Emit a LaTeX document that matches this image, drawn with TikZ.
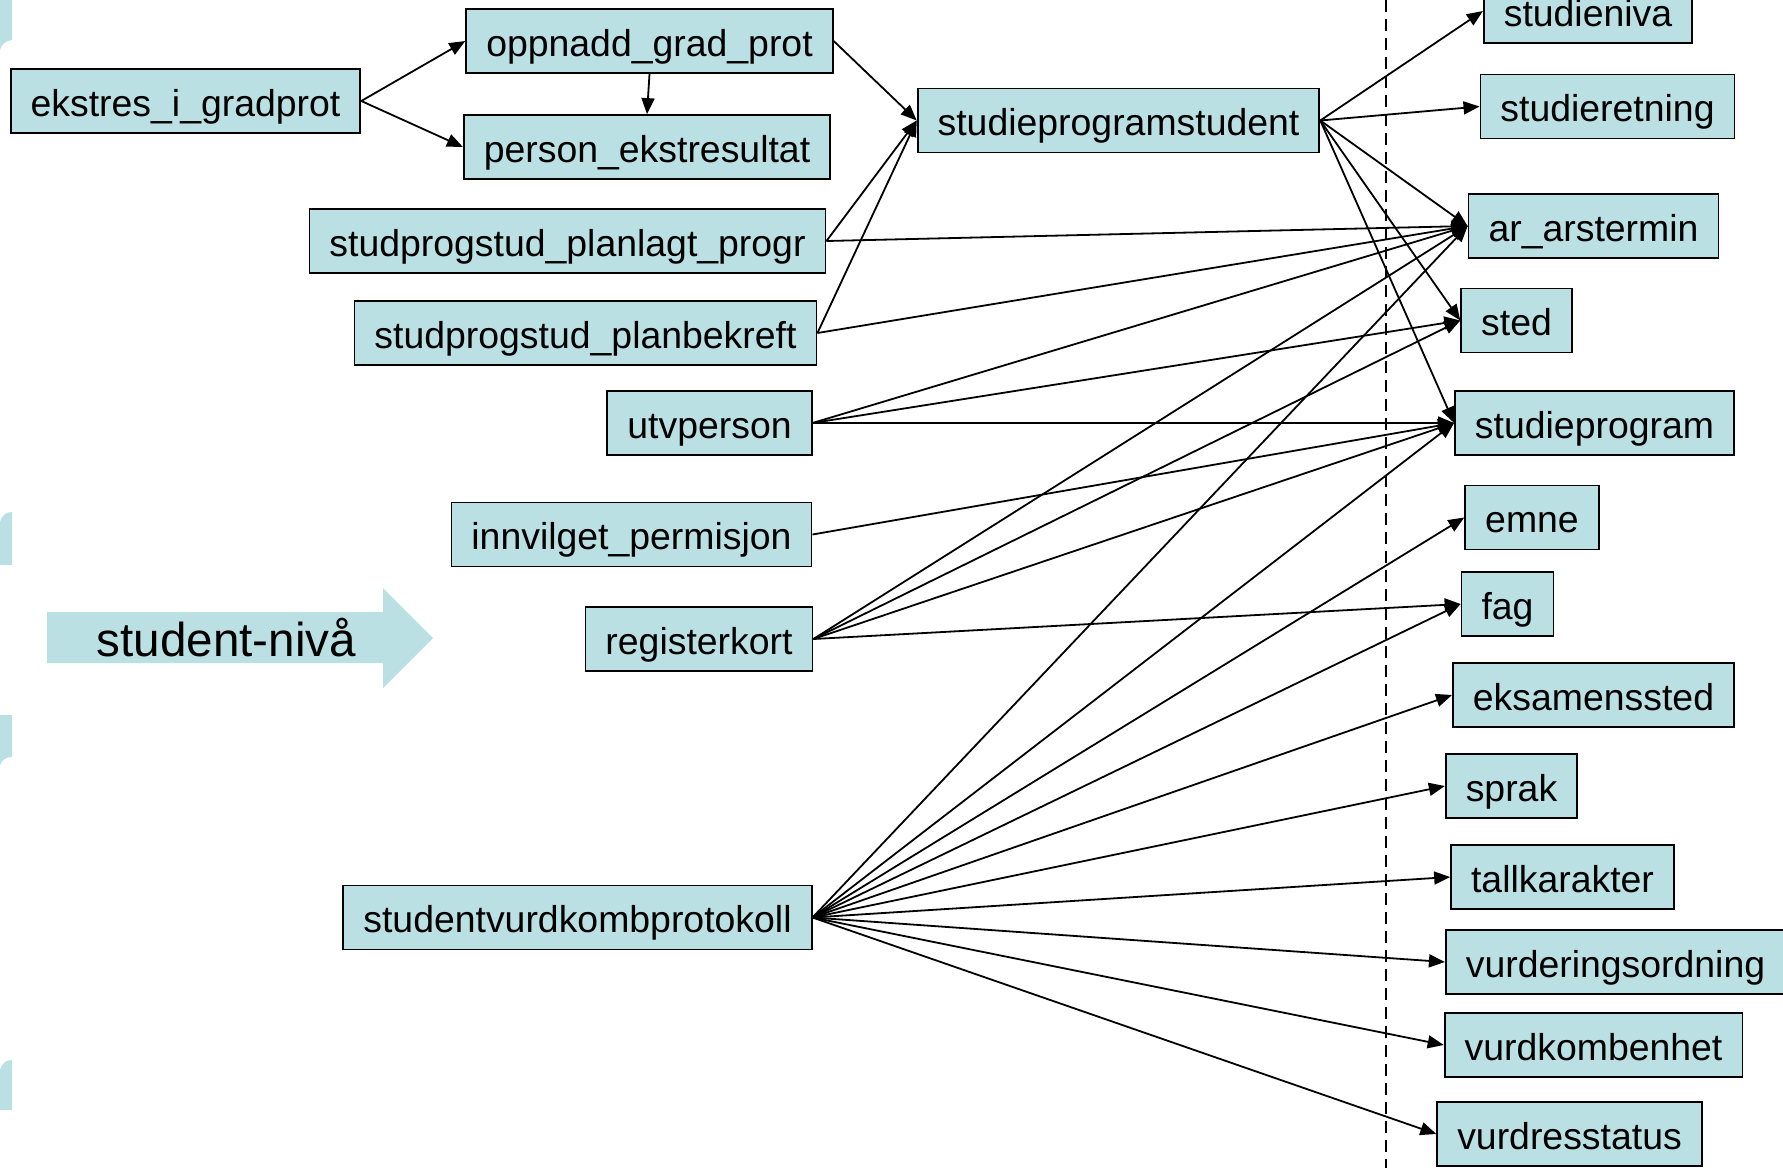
\documentclass[tikz,border=0pt]{standalone}
\usepackage{fontspec}
\setmainfont{Liberation Sans}
\usepackage{tikz}
\usetikzlibrary{positioning,calc,arrows.meta}

\definecolor{tblblue}{RGB}{186,224,227}

\tikzset{
  entity/.style={draw=black, line width=0.9pt, fill=tblblue, minimum height=32pt,
    inner xsep=10pt, inner ysep=0pt, text height=18pt, text depth=2.8pt,
    font=\fontsize{18.7pt}{22pt}\selectfont},
  fk/.style={line width=0.9pt, -{Triangle[length=8pt,width=6.5pt]}},
  levelline/.style={line width=0.9pt, dash pattern=on 6pt off 3.5pt},
}

\begin{document}
\begin{tikzpicture}[x=0.5pt, y=-0.5pt]
  \useasboundingbox (0,0) rectangle (1783,1168);

  % Pieces of shapes cut off at the left edge
  \fill[tblblue] (0,0) -- (12,0) -- (12,40) .. controls (5,41) and (1,45) .. (0,50) -- cycle;
  \fill[tblblue] (0,522) .. controls (2,515) and (6,512) .. (12,512) -- (12,565) -- (0,565) -- cycle;
  \fill[tblblue] (0,715) -- (12,715) -- (12,757) .. controls (6,757) and (2,760) .. (0,765) -- cycle;
  \fill[tblblue] (0,1070) .. controls (2,1063) and (6,1060) .. (12,1060) -- (12,1110) -- (0,1110) -- cycle;

  % Level arrow
  \fill[tblblue] (47,612) -- (383,612) -- (383,588) -- (433,638) -- (383,688) -- (383,663) -- (47,663) -- cycle;
  \node[inner sep=0pt, text height=22.8pt, text depth=4pt, font=\fontsize{23.8pt}{28pt}\selectfont]
    (niva) at (226.5,637.5) {student-nivå};

  % Dashed separator
  \coordinate (septop) at (1386,0);
  \coordinate (sepbot) at (1386,1168);
  \draw[levelline] (septop) -- (sepbot);

  % Student level tables
  \node[entity] (ekstres)   at (185.5,101)   {ekstres\_i\_gradprot};
  \node[entity] (oppnadd)   at (649.5,41)    {oppnadd\_grad\_prot};
  \node[entity] (persekst)  at (647,147)     {person\_ekstresultat};
  \node[entity] (planlagt)  at (567.5,241)   {studprogstud\_planlagt\_progr};
  \node[entity] (planbekr)  at (585.5,333)   {studprogstud\_planbekreft};
  \node[entity] (utvperson) at (709.5,423)   {utvperson};
  \node[entity] (permisjon) at (631.5,534.5) {innvilget\_permisjon};
  \node[entity] (regkort)   at (699,639)     {registerkort};
  \node[entity] (vurdprot)  at (577.5,917.5) {studentvurdkombprotokoll};
  \node[entity] (sps)       at (1118.5,120.5) {studieprogramstudent};

  % Tables on the other side of the line
  \node[entity] (nivaa)     at (1588,11)     {studieniva};
  \node[entity] (retning)   at (1607.5,106.5) {studieretning};
  \node[entity] (arstermin) at (1593.5,226)  {ar\_arstermin};
  \node[entity] (sted)      at (1516.5,320.5) {sted};
  \node[entity] (studprog)  at (1594.5,423)  {studieprogram};
  \node[entity] (emne)      at (1532,517.5)  {emne};
  \node[entity] (fag)       at (1507.5,604)  {fag};
  \node[entity] (eksted)    at (1593.5,695)  {eksamenssted};
  \node[entity] (sprak)     at (1511.5,786)  {sprak};
  \node[entity] (tallkar)   at (1562.5,877)  {tallkarakter};
  \node[entity] (vurdordn)  at (1615.5,962)  {vurderingsordning};
  \node[entity] (vurdkomb)  at (1593.5,1045) {vurdkombenhet};
  \node[entity] (vurdres)   at (1569.5,1134) {vurdresstatus};

  % Grade protocol
  \draw[fk] (ekstres.east) -- (oppnadd.west);
  \draw[fk] (ekstres.east) -- (persekst.west);
  \draw[fk] (oppnadd.south) -- (persekst.north);

  % Into studieprogramstudent
  \foreach \src in {oppnadd,planlagt,planbekr}
    \draw[fk] (\src.east) -- (sps.west);

  % Out of studieprogramstudent
  \foreach \dst in {nivaa,retning,arstermin,sted,studprog}
    \draw[fk] (sps.east) -- (\dst.west);

  % Into ar_arstermin
  \foreach \src in {planlagt,planbekr,utvperson,regkort,vurdprot}
    \draw[fk] (\src.east) -- (arstermin.west);

  % Into sted and studieprogram
  \foreach \src in {utvperson,regkort}
    \draw[fk] (\src.east) -- (sted.west);
  \foreach \src in {utvperson,permisjon,regkort,vurdprot}
    \draw[fk] (\src.east) -- (studprog.west);

  \draw[fk] (regkort.east) -- (fag.west);

  % Out of studentvurdkombprotokoll
  \foreach \dst in {emne,fag,eksted,sprak,tallkar,vurdordn,vurdkomb,vurdres}
    \draw[fk] (vurdprot.east) -- (\dst.west);
\end{tikzpicture}
\end{document}
